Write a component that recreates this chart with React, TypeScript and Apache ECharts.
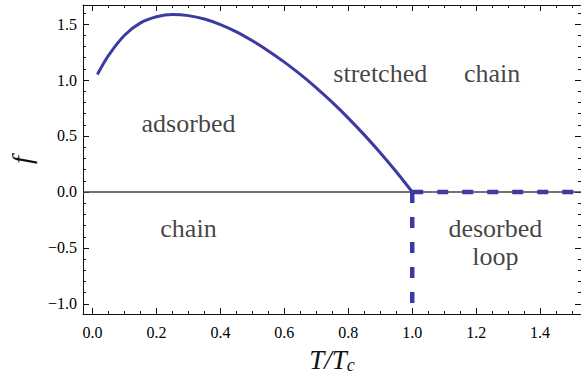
import React, { useEffect, useRef } from 'react';
import * as echarts from 'echarts';

// Phase boundary f(T/Tc)
const T_VALUES = [0.015, 0.05, 0.1, 0.15, 0.2, 0.25, 0.3, 0.35, 0.4, 0.45, 0.5, 0.55, 0.6, 0.65, 0.7, 0.75, 0.8, 0.85, 0.9, 0.95, 1.0];
const F_VALUES = [1.05, 1.22, 1.40, 1.51, 1.565, 1.585, 1.575, 1.545, 1.495, 1.43, 1.35, 1.26, 1.16, 1.05, 0.93, 0.80, 0.66, 0.51, 0.35, 0.18, 0.0];

const T_CRITICAL = 1.0;
const X_RANGE = [-0.03, 1.528];
const Y_RANGE = [-1.09, 1.67];

const X_MAJOR = [0, 0.2, 0.4, 0.6, 0.8, 1.0, 1.2, 1.4];
const Y_MAJOR = [-1.0, -0.5, 0, 0.5, 1.0, 1.5];

const REGION_NAMES = ['stretched', 'chain', 'adsorbed', 'chain', 'desorbed\nloop'];
const REGION_T = [0.9, 1.25, 0.3, 0.3, 1.26];
const REGION_F = [1.055, 1.055, 0.61, -0.33, -0.447];

const Y_TITLE = 'f';

const LINE_COLOR = '#3b3ba3';
const SERIF = "'Liberation Serif', 'Times New Roman', Times, serif";

function minorTicks(majorStep: number, divisions: number, lo: number, hi: number): number[] {
  const out: number[] = [];
  const step = majorStep / divisions;
  const start = Math.ceil(lo / step);
  const end = Math.floor(hi / step);
  for (let i = start; i <= end; i++) {
    if (i % divisions !== 0) out.push(Math.round(i * step * 1000) / 1000);
  }
  return out;
}

const X_MINOR = minorTicks(0.2, 4, X_RANGE[0], X_RANGE[1]);
const Y_MINOR = minorTicks(0.5, 5, Y_RANGE[0], Y_RANGE[1]);

function fmt(v: number): string {
  const s = Math.abs(v).toFixed(1);
  return v < -1e-9 ? '\u2212' + s : s;
}

export default function App() {
  const ref = useRef<HTMLDivElement>(null);

  useEffect(() => {
    document.body.style.margin = '0';
    if (!ref.current) return;
    const chart = echarts.init(ref.current, undefined, { renderer: 'svg' });

    const axisLine = { show: true, onZero: false, lineStyle: { color: '#111', width: 1 } };
    const noLine = { show: false, onZero: false };
    const tickStyle = { color: '#111', width: 1 };

    const xBase = {
      type: 'value' as const,
      min: X_RANGE[0],
      max: X_RANGE[1],
      splitLine: { show: false },
    };
    const yBase = {
      type: 'value' as const,
      min: Y_RANGE[0],
      max: Y_RANGE[1],
      splitLine: { show: false },
    };

    const curve = T_VALUES.map((t, i) => [t, F_VALUES[i]]);

    chart.setOption({
      animation: false,
      backgroundColor: '#fff',
      textStyle: { fontFamily: SERIF },
      grid: { left: 83, right: 0, top: 5, bottom: 61, outerBoundsMode: 'none', containLabel: false },
      graphic: [
        {
          type: 'text',
          x: 21,
          y: 160,
          rotation: Math.PI / 2,
          style: {
            text: Y_TITLE,
            font: `italic 28px ${SERIF}`,
            fill: '#111',
            align: 'center',
            verticalAlign: 'middle',
          },
        },
      ],
      xAxis: [
        {
          ...xBase,
          position: 'bottom',
          axisLine,
          axisTick: { show: true, inside: true, length: 6, customValues: X_MAJOR, lineStyle: tickStyle },
          axisLabel: {
            show: true,
            customValues: X_MAJOR,
            formatter: (v: number) => fmt(v),
            fontSize: 16,
            fontFamily: SERIF,
            color: '#000',
            margin: 10,
          },
          name: '{i|T}{n|/}{i|T}{s|c}',
          nameLocation: 'middle',
          nameGap: 31,
          nameTextStyle: {
            fontFamily: SERIF,
            rich: {
              i: { fontFamily: SERIF, fontStyle: 'italic', fontSize: 27, color: '#111' },
              n: { fontFamily: SERIF, fontStyle: 'italic', fontSize: 27, color: '#111' },
              s: { fontFamily: SERIF, fontStyle: 'italic', fontSize: 18, color: '#111', padding: [11, 0, 0, 0] },
            },
          },
        },
        {
          ...xBase,
          position: 'bottom',
          axisLine: noLine,
          axisTick: { show: true, inside: true, length: 3, customValues: X_MINOR, lineStyle: tickStyle },
          axisLabel: { show: false },
        },
        {
          ...xBase,
          position: 'top',
          axisLine,
          axisTick: { show: true, inside: true, length: 6, customValues: X_MAJOR, lineStyle: tickStyle },
          axisLabel: { show: false },
        },
        {
          ...xBase,
          position: 'top',
          axisLine: noLine,
          axisTick: { show: true, inside: true, length: 3, customValues: X_MINOR, lineStyle: tickStyle },
          axisLabel: { show: false },
        },
      ],
      yAxis: [
        {
          ...yBase,
          position: 'left',
          axisLine,
          axisTick: { show: true, inside: true, length: 6, customValues: Y_MAJOR, lineStyle: tickStyle },
          axisLabel: {
            show: true,
            customValues: Y_MAJOR,
            formatter: (v: number) => fmt(v),
            fontSize: 16,
            fontFamily: SERIF,
            color: '#000',
            margin: 6,
          },
        },
        {
          ...yBase,
          position: 'left',
          axisLine: noLine,
          axisTick: { show: true, inside: true, length: 3, customValues: Y_MINOR, lineStyle: tickStyle },
          axisLabel: { show: false },
        },
        {
          ...yBase,
          position: 'right',
          axisLine,
          axisTick: { show: true, inside: true, length: 6, customValues: Y_MAJOR, lineStyle: tickStyle },
          axisLabel: { show: false },
        },
        {
          ...yBase,
          position: 'right',
          axisLine: noLine,
          axisTick: { show: true, inside: true, length: 3, customValues: Y_MINOR, lineStyle: tickStyle },
          axisLabel: { show: false },
        },
      ],
      series: [
        {
          type: 'line',
          data: [[X_RANGE[0], 0], [X_RANGE[1], 0]],
          symbol: 'none',
          silent: true,
          lineStyle: { color: '#444', width: 1.5 },
          z: 1,
        },
        {
          type: 'line',
          data: curve,
          smooth: 0.3,
          symbol: 'none',
          lineStyle: { color: LINE_COLOR, width: 3 },
          z: 3,
        },
        {
          type: 'line',
          data: [[T_CRITICAL, 0], [X_RANGE[1], 0]],
          symbol: 'none',
          lineStyle: { color: LINE_COLOR, width: 4.5, type: [11, 14], cap: 'butt' },
          z: 3,
        },
        {
          type: 'line',
          data: [[T_CRITICAL, 0], [T_CRITICAL, Y_RANGE[0]]],
          symbol: 'none',
          lineStyle: { color: LINE_COLOR, width: 4.5, type: [11, 14], cap: 'butt' },
          z: 3,
        },
        {
          type: 'scatter',
          symbolSize: 0,
          silent: true,
          data: REGION_NAMES.map((n, i) => ({ name: n, value: [REGION_T[i], REGION_F[i]] })),
          label: {
            show: true,
            position: 'inside',
            formatter: (p: any) => p.name,
            fontFamily: SERIF,
            fontSize: 26,
            lineHeight: 28,
            align: 'center',
            color: '#111',
          },
          z: 4,
        },
      ],
    });

    return () => chart.dispose();
  }, []);

  return <div ref={ref} style={{ width: 581, height: 375 }} />;
}
